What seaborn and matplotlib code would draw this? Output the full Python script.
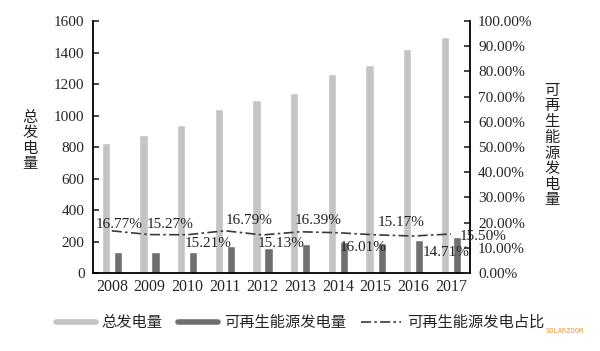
import numpy as np
import pandas as pd
import matplotlib
matplotlib.use('Agg')
import matplotlib.pyplot as plt
from matplotlib.lines import Line2D
from matplotlib.ticker import FuncFormatter
import seaborn as sns

# ── data ──────────────────────────────────────────────
years = ['2008', '2009', '2010', '2011', '2012', '2013', '2014', '2015', '2016', '2017']
total_gen = [826, 877, 940, 1040, 1098, 1143, 1263, 1320, 1420, 1498]
renew_gen = [134, 134, 134, 172, 160, 187, 197, 192, 210, 229]
renew_ratio = [16.77, 15.27, 15.21, 16.79, 15.13, 16.39, 16.01, 15.17, 14.71, 15.50]
ratio_labels = ['16.77%', '15.27%', '15.21%', '16.79%', '15.13%',
                '16.39%', '16.01%', '15.17%', '14.71%', '15.50%']

# label offsets (pixels) from each line point
label_dx = [7, 21, 21, 24, 19, 18, 25, 26, 33, 32]
label_dy = [6, 10, -9, 10, -9, 11, -15, 12, -16, -2]

c_total = '#c4c4c4'
c_renew = '#6f6f6f'
c_line = '#3a3a3a'

sns.set_style('white')
plt.rcParams['font.family'] = ['Liberation Serif', 'Noto Sans CJK SC']
plt.rcParams['axes.unicode_minus'] = False

df = pd.DataFrame({
    'year': years * 2,
    'value': total_gen + renew_gen,
    'series': ['总发电量'] * len(years) + ['可再生能源发电量'] * len(years),
})

fig = plt.figure(figsize=(6, 3.51), dpi=100)
ax = fig.add_axes([0.155, 0.222, 0.628, 0.718])

sns.barplot(data=df, x='year', y='value', hue='series',
            palette=[c_total, c_renew], width=0.64, gap=0.32,
            legend=False, ax=ax)

ax.set_ylim(0, 1600)
ax.set_yticks(range(0, 1601, 200))
ax.set_xlim(-0.5, len(years) - 0.5)
ax.set_xlabel('')
ax.set_ylabel('')
ax.tick_params(axis='y', direction='in', length=4, width=1.2, labelsize=11, pad=6, left=True)
ax.tick_params(axis='x', length=0, labelsize=11.5, pad=4)
for s in ['left', 'bottom']:
    ax.spines[s].set_color('black')
    ax.spines[s].set_linewidth(1.3)
ax.spines['top'].set_visible(False)
ax.spines['right'].set_visible(False)

ax2 = ax.twinx()
x_pos = np.arange(len(years))
sns.lineplot(x=x_pos, y=renew_ratio, ax=ax2, color=c_line, linewidth=1.2,
             dashes=False)
ax2.lines[0].set_dashes([6, 2, 1.5, 2])
ax2.set_ylim(0, 100)
ax2.set_yticks(range(0, 101, 10))
ax2.yaxis.set_major_formatter(FuncFormatter(lambda v, p: f'{v:.2f}%'))
ax2.tick_params(axis='y', direction='in', length=4, width=1.2, labelsize=11, pad=6, right=True)
ax2.set_ylabel('')
ax2.spines['right'].set_color('black')
ax2.spines['right'].set_linewidth(1.3)
ax2.spines['top'].set_visible(False)
ax2.spines['left'].set_visible(False)
ax2.spines['bottom'].set_visible(False)

for i, lab in enumerate(ratio_labels):
    ax2.annotate(lab, (x_pos[i], renew_ratio[i]), xytext=(label_dx[i], label_dy[i]),
                 textcoords='offset pixels', ha='center', va='center',
                 fontsize=11, color='#222222')

fig.text(30 / 600, 1 - 141 / 351, '\n'.join('总发电量'), ha='center', va='center',
         fontsize=11, linespacing=1.2, color='#222222')
fig.text(552 / 600, 1 - 146 / 351, '\n'.join('可再生能源发电量'), ha='center', va='center',
         fontsize=11, linespacing=1.2, color='#222222')

handles = [
    Line2D([], [], color=c_total, linewidth=4),
    Line2D([], [], color=c_renew, linewidth=4),
    Line2D([], [], color=c_line, linewidth=1.2, dashes=[6, 2, 1.5, 2]),
]
fig.legend(handles, ['总发电量', '可再生能源发电量', '可再生能源发电占比'],
           loc='center', bbox_to_anchor=(0.5, 1 - 323 / 351), ncol=3,
           frameon=False, fontsize=11, handlelength=2.6, handletextpad=0.4,
           columnspacing=1.0)

fig.text(545 / 600, 1 - 331 / 351, 'SOLARZOOM', ha='left', va='center',
         fontsize=5, color='#e69a3c', family='DejaVu Sans Mono')

fig.savefig('out.png', dpi=100)
